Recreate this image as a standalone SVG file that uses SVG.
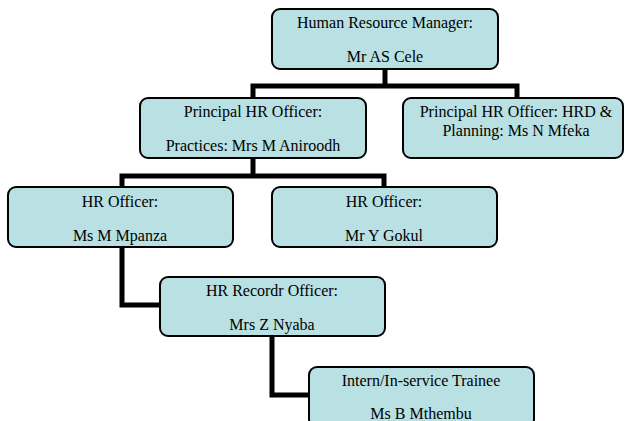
<svg xmlns="http://www.w3.org/2000/svg" width="627" height="421" viewBox="0 0 627 421">
<style>
.box{fill:#b9e0e3;stroke:#000;stroke-width:2}
.t{font-family:"Liberation Serif","Times New Roman",serif;font-size:16px;fill:#000;text-anchor:middle}
.c{fill:none;stroke:#000;stroke-width:5;stroke-linejoin:miter}
</style>
<rect width="627" height="421" fill="#fff"/>
<g id="connectors">
<path class="c" d="M385,69 V86"/>
<path class="c" d="M253,98 V86 H517 V98"/>
<path class="c" d="M253,158 V176"/>
<path class="c" d="M122,187 V176 H384 V187"/>
<path class="c" d="M122,247 V305 H160"/>
<path class="c" d="M272,336 V395 H309"/>
</g>
<g id="hr-manager">
<rect class="box" x="272" y="9" width="226" height="60" rx="8"/>
<text class="t" x="385" y="28">Human Resource Manager:</text>
<text class="t" x="385" y="62">Mr AS Cele</text>
</g>
<g id="principal-practices">
<rect class="box" x="140" y="98" width="226" height="60" rx="8"/>
<text class="t" x="253" y="117">Principal HR Officer:</text>
<text class="t" x="253" y="151">Practices: Mrs M Aniroodh</text>
</g>
<g id="principal-hrd">
<rect class="box" x="403" y="98" width="220" height="60" rx="8"/>
<text class="t" x="516" y="117">Principal HR Officer: HRD &amp;</text>
<text class="t" x="516" y="136">Planning: Ms N Mfeka</text>
</g>
<g id="hr-officer-mpanza">
<rect class="box" x="8" y="187" width="225" height="60" rx="8"/>
<text class="t" x="120" y="207">HR Officer:</text>
<text class="t" x="120" y="241">Ms M Mpanza</text>
</g>
<g id="hr-officer-gokul">
<rect class="box" x="272" y="187" width="225" height="60" rx="8"/>
<text class="t" x="384" y="207">HR Officer:</text>
<text class="t" x="384" y="241">Mr Y Gokul</text>
</g>
<g id="hr-records">
<rect class="box" x="160" y="277" width="225" height="59" rx="8"/>
<text class="t" x="272" y="296">HR Recordr Officer:</text>
<text class="t" x="272" y="330">Mrs Z Nyaba</text>
</g>
<g id="intern">
<rect class="box" x="309" y="367" width="225" height="60" rx="8"/>
<text class="t" x="421" y="386">Intern/In-service Trainee</text>
<text class="t" x="421" y="419">Ms B Mthembu</text>
</g>
</svg>
